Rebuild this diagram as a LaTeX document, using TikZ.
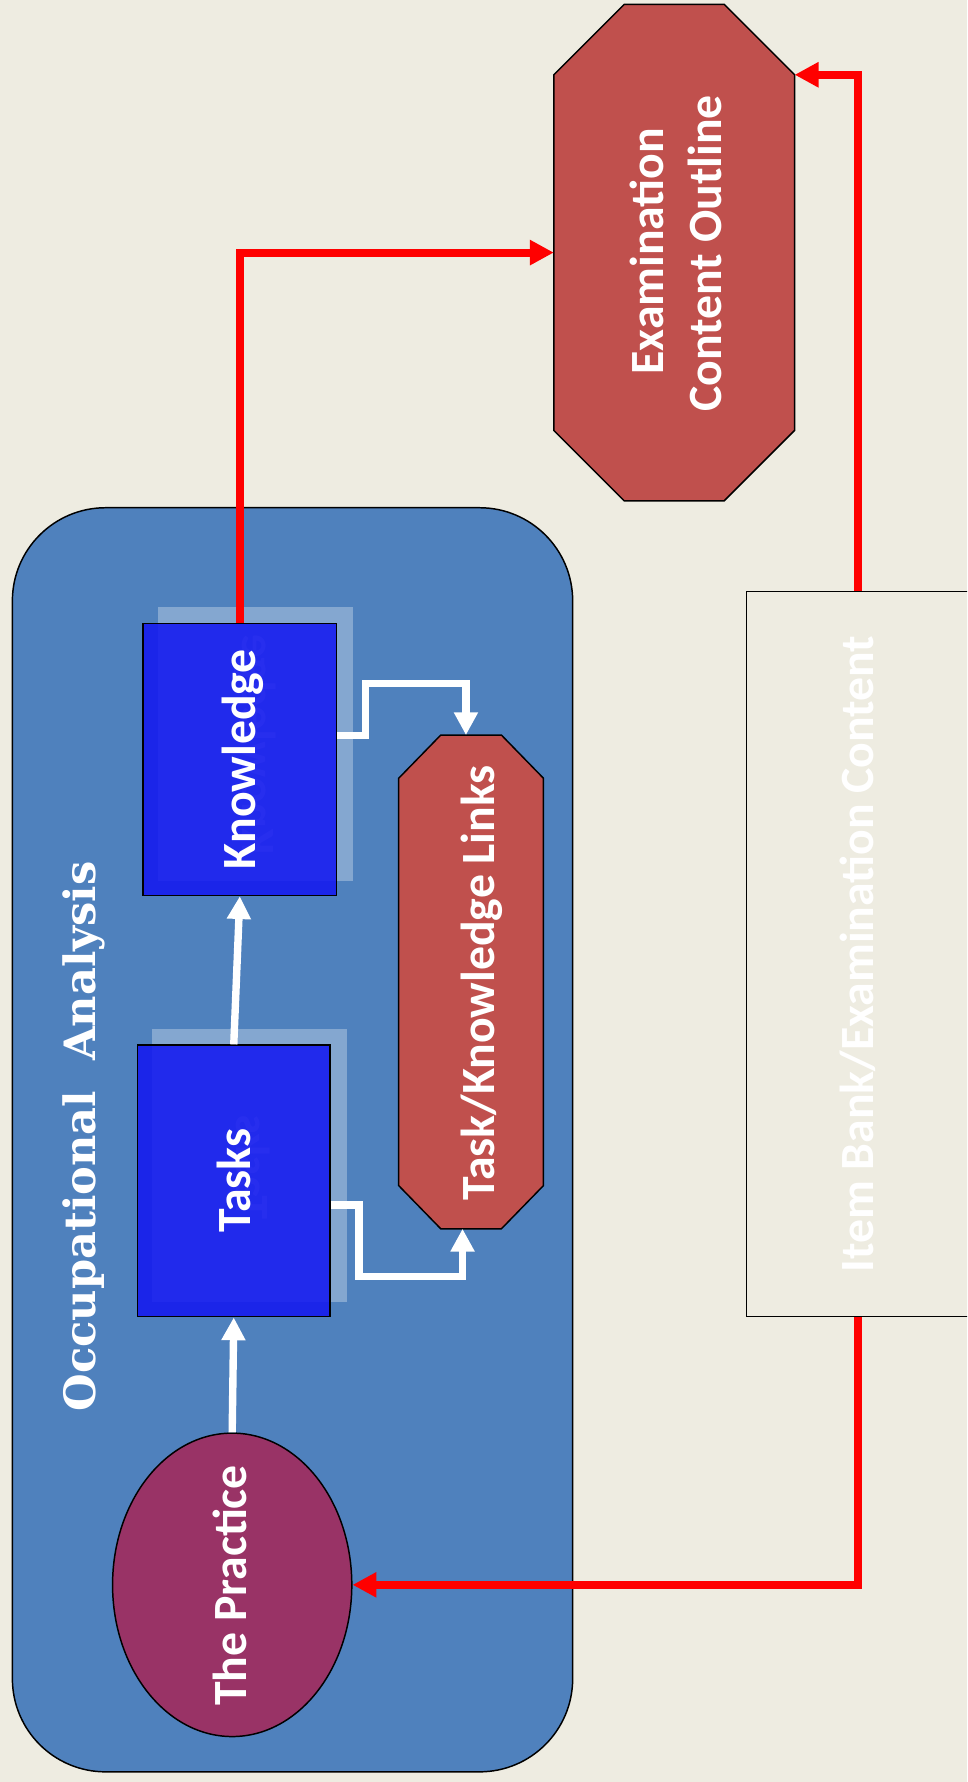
\documentclass[tikz,border=0pt]{standalone}
\usepackage{fontspec}
\setmainfont{Carlito}
\newfontfamily\oafont{DejaVu Serif}
\usetikzlibrary{arrows.meta,calc,shapes.geometric}
\definecolor{bgc}{RGB}{238,236,225}
\definecolor{oabox}{RGB}{79,129,189}
\definecolor{octc}{RGB}{192,80,77}
\definecolor{ellc}{RGB}{153,51,102}
\definecolor{bluebox}{RGB}{20,25,240}
\tikzset{
  frame/.style={draw=black, line width=1.3pt, inner sep=0pt},
  ghostbox/.style={fill=white, fill opacity=0.3, inner sep=0pt},
  ghosttxt/.style={text=white, text opacity=0.4, font=\fontsize{42}{51}\selectfont\bfseries, inner sep=0pt},
  bluebx/.style={frame, fill=bluebox, fill opacity=0.88},
  oct/.style={draw=black, line width=1.3pt, fill=octc, line join=miter},
  lbl/.style={text=white, font=\fontsize{42}{51}\selectfont\bfseries, inner sep=0pt},
  redarr/.style={draw=red, line width=7pt, line join=miter, -{Triangle[length=21pt,width=21pt]}},
  whitearr/.style={draw=white, line width=6.5pt, line join=miter, -{Triangle[length=20pt,width=20pt]}},
  bbox/.style={inner sep=0pt}
}
\begin{document}
\begin{tikzpicture}[x=1pt,y=-1pt]
\useasboundingbox (0,0) rectangle (851,1568);
\clip (0,0) rectangle (851,1568);
\fill[bgc] (0,0) rectangle (851,1568);

% big rounded container
\node[frame, fill=oabox, rounded corners=82pt, minimum width=493pt, minimum height=1112.3pt] (oa) at (257.4,1002.9) {};
\node[text=white, font=\oafont\bfseries\fontsize{38}{45}\selectfont, rotate=90, anchor=base, inner sep=0pt] (oalbl) at (84,1000) {Occupational\ \ Analysis};

% item bank box
\node[frame, fill=bgc, minimum width=195.2pt, minimum height=638pt] (item) at (754.6,839.5) {};
\node[lbl, rotate=90] (itemlbl) at (item.center) {Item Bank/Examination Content};

% examination content outline octagon
\node[bbox, minimum width=211.5pt, minimum height=436.5pt] (exam) at (593.25,222.25) {};
\draw[oct] ($(exam.north west)+(62,0)$) -- ($(exam.north east)+(-62,0)$) -- ($(exam.north east)+(0,62)$) -- ($(exam.south east)+(0,-62)$) -- ($(exam.south east)+(-62,0)$) -- ($(exam.south west)+(62,0)$) -- ($(exam.south west)+(0,-62)$) -- ($(exam.north west)+(0,62)$) -- cycle;
\node[lbl, rotate=90, anchor=base] (exam1) at (583.6,221) {Examination};
\node[lbl, rotate=90, anchor=base] (exam2) at (635,223) {Content Outline};

% task/knowledge links octagon
\node[bbox, minimum width=127pt, minimum height=434pt] (tkl) at (414.5,864) {};
\draw[oct] ($(tkl.north west)+(37,0)$) -- ($(tkl.north east)+(-37,0)$) -- ($(tkl.north east)+(0,38)$) -- ($(tkl.south east)+(0,-38)$) -- ($(tkl.south east)+(-37,0)$) -- ($(tkl.south west)+(37,0)$) -- ($(tkl.south west)+(0,-38)$) -- ($(tkl.north west)+(0,38)$) -- cycle;
\node[lbl, rotate=90, anchor=base] (tkllbl) at (435,865) {Task/Knowledge Links};

% ghost (reflection) boxes
\node[ghostbox, minimum width=172pt, minimum height=241pt] (knowg) at (225,654.5) {};
\node[ghosttxt, rotate=90, yscale=-1, anchor=base] (knowgt) at (213,655) {Knowledge};
\node[ghostbox, minimum width=171pt, minimum height=241pt] (tasksg) at (219.5,1025.5) {};
\node[ghosttxt, rotate=90, yscale=-1, anchor=base] (tasksgt) at (208,1027) {Tasks};

% blue boxes
\node[bluebx, minimum width=170pt, minimum height=239.5pt] (know) at (211,668.25) {};
\node[lbl, rotate=90, anchor=base] (knowlbl) at (225,668) {Knowledge};
\node[bluebx, minimum width=169.4pt, minimum height=239pt] (tasks) at (205.7,1039.1) {};
\node[lbl, rotate=90, anchor=base] (taskslbl) at (220,1039) {Tasks};

% the practice
\node[ellipse, frame, fill=ellc, minimum width=210.5pt, minimum height=267pt] (practice) at (204.3,1394.5) {};
\node[lbl, rotate=90, anchor=base] (praclbl) at (217,1395) {The Practice};

% red connectors
\draw[redarr] (know.north) |- (exam.west);
\draw[redarr] (item.north) |- ($(exam.north east)+(0,62)$);
\draw[redarr] (item.south) |- (practice.east);

% white connectors
\draw[whitearr] (practice.north) -- (tasks.south);
\draw[whitearr] (tasks.north) -- (know.south);
\draw[whitearr] ($(know.north east)+(0,99.5)$) -- ++(25,0) -- ++(0,-46) -| ($(tkl.north)+(-4.5,0)$);
\draw[whitearr] ($(tasks.north east)+(0,141.4)$) -- ++(25,0) -- ++(0,63) -| ($(tkl.south)+(-7.5,0)$);
\end{tikzpicture}
\end{document}
